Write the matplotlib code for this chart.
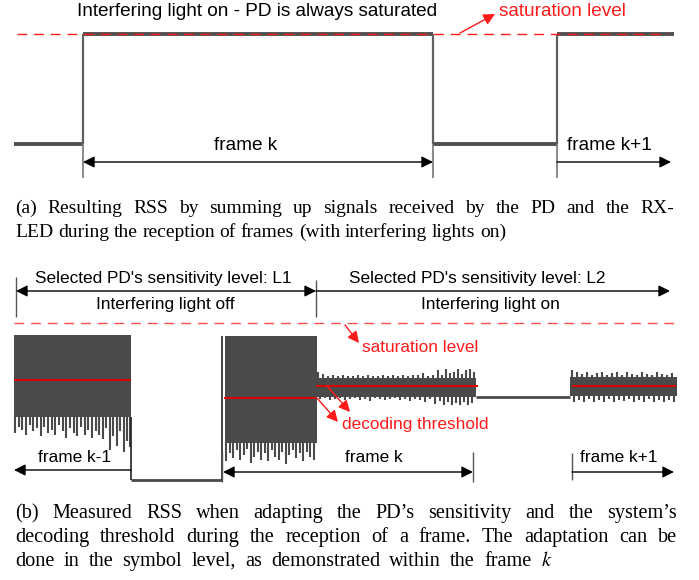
import matplotlib
matplotlib.use("Agg")
import matplotlib.pyplot as plt

plt.rcParams['font.family'] = ['Liberation Sans', 'DejaVu Sans']
plt.rcParams['mathtext.fontset'] = 'stix'
SERIF = ['Liberation Serif', 'DejaVu Serif']

GRAY = "#4a4a4a"
RED = "#ff1a1a"
THR = "#e00000"

# ---- (a) RSS with interfering light on, normalised (saturation = 1) ----
a_edges = [1.4, 8.3, 43.3, 55.7, 67.4]      # time of level changes (ms)
a_levels = [0.0, 1.0, 0.0, 1.0]              # level between two edges
a_sat = 1.0

# ---- (b) measured RSS, normalised (saturation = 1) ----
b_sat = 1.0
# dense OOK parts: start, end, top and bottom of the solid core
blk_t0 = [1.4, 22.5, 31.7, 57.0]
blk_t1 = [13.1, 31.7, 47.6, 67.7]
blk_top = [0.924, 0.917, 0.650, 0.655]
blk_bot = [0.401, 0.236, 0.530, 0.535]
# dips below the core
dip_t = [1.5, 1.9, 2.2, 2.6, 3.0, 3.3, 3.7, 4.1, 4.4, 4.8, 5.2, 5.5, 5.9, 6.3, 6.6, 7.0, 7.4,
         7.7, 8.1, 8.5, 8.8, 9.2, 9.6, 9.9, 10.3, 10.6, 11.0, 11.3, 11.7, 12.0, 12.4, 12.7, 13.0,
         22.6, 23.0, 23.3, 23.7, 24.0, 24.4, 24.7, 25.1, 25.4, 25.8, 26.1, 26.5, 26.8, 27.2,
         27.5, 27.9, 28.2, 28.6, 28.9, 29.3, 29.6, 30.0, 30.3, 30.7, 31.0, 31.4,
         32.0, 32.5, 33.0, 33.5, 34.0, 34.5, 35.0, 35.5, 36.0, 36.5, 37.0, 37.5, 38.0, 38.5,
         39.0, 39.5, 40.0, 40.5, 41.0, 41.5, 42.0, 42.5, 43.0, 43.5, 44.0, 44.4, 44.8, 45.2,
         45.6, 46.0, 46.4, 46.8, 47.2,
         57.4, 57.9, 58.4, 58.9, 59.4, 59.9, 60.4, 60.9, 61.4, 61.9, 62.4, 62.9, 63.4, 63.9,
         64.4, 64.9, 65.4, 65.9, 66.4, 66.9, 67.4]
dip_v = [0.30, 0.34, 0.32, 0.29, 0.35, 0.31, 0.33, 0.28, 0.34, 0.30, 0.32, 0.29, 0.35, 0.31,
         0.27, 0.33, 0.30, 0.28, 0.34, 0.29, 0.32, 0.27, 0.31, 0.29, 0.26, 0.33, 0.19, 0.28,
         0.22, 0.31, 0.18, 0.25, 0.21,
         0.12, 0.17, 0.14, 0.19, 0.13, 0.16, 0.20, 0.11, 0.15, 0.18, 0.13, 0.17, 0.12, 0.19,
         0.15, 0.13, 0.18, 0.10, 0.16, 0.19, 0.14, 0.17, 0.12, 0.18, 0.15, 0.13,
         0.515, 0.52, 0.51, 0.515, 0.52, 0.51, 0.515, 0.52, 0.51, 0.515, 0.505, 0.52, 0.515,
         0.51, 0.515, 0.52, 0.51, 0.515, 0.505, 0.515, 0.51, 0.50, 0.515, 0.485, 0.505, 0.48,
         0.50, 0.475, 0.49, 0.48, 0.50, 0.475, 0.49,
         0.50, 0.51, 0.495, 0.515, 0.50, 0.51, 0.495, 0.515, 0.50, 0.51, 0.505, 0.515, 0.495,
         0.51, 0.50, 0.515, 0.50, 0.51, 0.495, 0.51, 0.50]
# peaks above the core
peak_t = [31.8, 32.3, 32.8, 33.3, 33.8, 34.3, 34.8, 35.3, 35.8, 36.3, 36.8, 37.3, 37.8, 38.3,
          38.8, 39.3, 39.8, 40.3, 40.8, 41.3, 41.8, 42.3, 42.8, 43.3, 43.8, 44.2, 44.6, 45.0,
          45.4, 45.8, 46.2, 46.6, 47.0, 47.4,
          57.2, 57.7, 58.2, 58.7, 59.2, 59.7, 60.2, 60.7, 61.2, 61.7, 62.2, 62.7, 63.2, 63.7,
          64.2, 64.7, 65.2, 65.7, 66.2, 66.7, 67.2]
peak_v = [0.69, 0.675, 0.665, 0.67, 0.66, 0.672, 0.665, 0.66, 0.668, 0.662, 0.67, 0.665, 0.66,
          0.668, 0.664, 0.672, 0.66, 0.668, 0.664, 0.672, 0.668, 0.68, 0.665, 0.672, 0.70,
          0.668, 0.705, 0.68, 0.69, 0.705, 0.675, 0.70, 0.705, 0.69,
          0.70, 0.685, 0.675, 0.69, 0.67, 0.68, 0.685, 0.67, 0.68, 0.69, 0.67, 0.685, 0.675,
          0.67, 0.685, 0.675, 0.67, 0.685, 0.675, 0.67, 0.68]
# quiet parts (no frame)
q_t0 = [13.1, 47.6]
q_t1 = [22.2, 57.0]
q_lvl = [0.0, 0.530]
# decoding thresholds
thr_t0 = [1.4, 22.4, 31.6, 57.2]
thr_t1 = [13.1, 31.6, 47.8, 67.6]
thr_v = [0.637, 0.522, 0.599, 0.596]

fig = plt.figure(figsize=(6.99, 5.80), dpi=100)

# signal axes (a)
axa = fig.add_axes([0, 390 / 580, 1, 190 / 580])
axa.set_xlim(0, 69.9)
axa.set_ylim(-0.418, 1.309)
axa.axis("off")
axa.hlines(a_levels, a_edges[:-1], a_edges[1:], color="#505050", lw=2.8, zorder=3)
axa.vlines(a_edges[1:-1], 0, 1, color="#606060", lw=1.6, zorder=3)
axa.plot([1.7, 66.8], [a_sat, a_sat], color=RED, lw=1.0, dashes=(7, 5), zorder=4)


def block_of(t):
    return [k for k in range(len(blk_t0)) if blk_t0[k] <= t <= blk_t1[k]][0]


# signal axes (b)
axb = fig.add_axes([0, 80 / 580, 1, 250 / 580])
axb.set_xlim(0, 69.9)
axb.set_ylim(-0.127, 1.465)
axb.axis("off")
for t0, t1, top, bot in zip(blk_t0, blk_t1, blk_top, blk_bot):
    axb.fill_between([t0, t1], bot, top, color=GRAY, lw=0, zorder=2)
for t, v in zip(dip_t, dip_v):
    axb.vlines(t, v, blk_bot[block_of(t)], color=GRAY, lw=1.5, zorder=2)
for t, v in zip(peak_t, peak_v):
    axb.vlines(t, blk_top[block_of(t)], v, color=GRAY, lw=1.5, zorder=2)
axb.hlines(q_lvl, q_t0, q_t1, color=GRAY, lw=2.0, zorder=2)
axb.vlines([blk_t1[0]], q_lvl[0], blk_bot[0], color="#222222", lw=1.2, zorder=2)
axb.vlines([q_t1[0]], q_lvl[0], blk_top[1], color="#222222", lw=1.2, zorder=2)
axb.hlines(thr_v, thr_t0, thr_t1, color=THR, lw=1.4, zorder=3)
axb.plot([1.4, 67.6], [b_sat, b_sat], color="#ff4d4d", lw=1.0, dashes=(7, 5), zorder=3)

# overlay in pixel coordinates for labels and arrows
ov = fig.add_axes([0, 0, 1, 1], zorder=5)
ov.set_xlim(0, 699)
ov.set_ylim(580, 0)
ov.axis("off")
ov.patch.set_alpha(0)


def arrow(x0, x1, y, style="<|-|>", color="k", y1=None):
    ov.annotate("", xy=(x1, y if y1 is None else y1), xytext=(x0, y),
                arrowprops=dict(arrowstyle=style, color=color, lw=1.0,
                                mutation_scale=17, shrinkA=0, shrinkB=0))


FA = 13.7   # labels of (a)
FB = 12.4   # labels of (b)

# (a) labels
ov.text(257, 12, "Interfering light on - PD is always saturated", fontsize=FA,
        ha="center", va="center")
ov.text(562, 12, "saturation level", fontsize=FA, color=RED, ha="center", va="center")
arrow(460, 495, 33, style="-|>", color=RED, y1=14)
ov.vlines([83, 433, 557], 144, 178, color="#777777", lw=1.2)
arrow(83, 433, 162)
arrow(557, 671, 162, style="-|>")
ov.text(246, 146, "frame k", fontsize=FA, ha="center", va="center")
ov.text(609, 146, "frame k+1", fontsize=FA, ha="center", va="center")

# (b) labels
ov.vlines([16, 316], [277, 280], [317, 317], color="#555555", lw=1.0)
arrow(16, 316, 291)
arrow(316, 670, 291, style="-|>")
ov.text(163, 278, "Selected PD's sensitivity level: L1", fontsize=FB, ha="center", va="center")
ov.text(165, 304, "Interfering light off", fontsize=FB, ha="center", va="center")
ov.text(477, 278, "Selected PD's sensitivity level: L2", fontsize=FB, ha="center", va="center")
ov.text(490, 304, "Interfering light on", fontsize=FB, ha="center", va="center")

ov.text(420, 348, "saturation level", fontsize=FB, color=RED, ha="center", va="center")
arrow(345, 359, 325, style="-|>", color=RED, y1=343)
ov.text(415, 424, "decoding threshold", fontsize=FB, color=RED, ha="center", va="center")
arrow(317, 338, 398, style="-|>", color=RED, y1=422)
arrow(327, 350, 386, style="-|>", color=RED, y1=412)

ov.vlines([222, 473, 572], [452, 452, 453], [482, 482, 480], color="#555555", lw=1.0)
ov.text(75, 457, "frame k-1", fontsize=FB, ha="center", va="center")
arrow(131, 14, 470, style="-|>")
ov.text(374, 457, "frame k", fontsize=FB, ha="center", va="center")
arrow(223, 473, 472)
ov.text(619, 457, "frame k+1", fontsize=FB, ha="center", va="center")
arrow(572, 674, 472, style="-|>")

# captions (justified like the paper layout)
renderer = fig.canvas.get_renderer()


def line(words, y, size, x0=15, x1=677):
    ts = [ov.text(0, y, w, fontsize=size, family=SERIF, va="baseline") for w in words]
    widths = [t.get_window_extent(renderer).width for t in ts]
    gap = (x1 - x0 - sum(widths)) / (len(words) - 1)
    x = x0
    for t, w in zip(ts, widths):
        t.set_x(x)
        x += w + gap


CA, CB = 14.0, 14.6
line("(a) Resulting RSS by summing up signals received by the PD and the RX-".split(), 213, CA, x1=674)
line("LED during the reception of frames (with interfering lights on)".split(), 237, CA, x1=506)
line("(b) Measured RSS when adapting the PD\u2019s sensitivity and the system\u2019s".split(), 518, CB)
line("decoding threshold during the reception of a frame. The adaptation can be".split(), 542, CB)
line("done in the symbol level, as demonstrated within the frame $k$".split(), 566, CB, x1=552)

fig.savefig("out.png", dpi=100)
